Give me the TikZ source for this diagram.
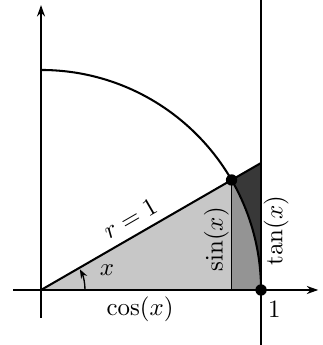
\documentclass[tikz,border=0pt]{standalone}
\usetikzlibrary{arrows.meta}
\begin{document}
\begin{tikzpicture}[x=3.4cm,y=3.4cm,
  axis/.style={line width=0.9pt,-{Stealth[length=5pt,width=3.5pt]}},
  edge/.style={line width=0.9pt},
  thinline/.style={line width=0.6pt},
  dot/.style={circle,fill=black,inner sep=0pt,minimum size=5pt},
  lab/.style={inner sep=1pt,font=\fontsize{11.3}{13}\selectfont}]
\useasboundingbox (-0.1864,-0.25) rectangle (1.2773,1.318);
\coordinate (O) at (0,0);
\coordinate (P) at (30:1);
\coordinate (C) at ({cos(30)},0);
\coordinate (E) at (1,0);
\coordinate (T) at (1,{tan(30)});
% shading
\fill[black!22] (O) -- (P) -- (C) -- cycle;
\fill[black!42] (C) -- (P) arc[start angle=30,end angle=0,radius=1] -- cycle;
\fill[black!78] (P) -- (T) -- (E) arc[start angle=0,end angle=30,radius=1] -- cycle;
% axes
\draw[axis] (-0.127,0) -- (1.26,0);
\draw[axis] (0,-0.127) -- (0,1.295);
\draw[edge] (1,-0.25) -- (1,1.318);
% arc and lines
\draw[edge] (0,1) arc[start angle=90,end angle=0,radius=1];
\draw[edge] (O) -- (T);
\draw[thinline] (P) -- (C);
\draw[thinline,-{Stealth[length=4pt,width=3pt]}] (0.2,0) arc[start angle=0,end angle=28,radius=0.2];
\node[dot] (dP) at (P) {};
\node[dot] (dE) at (E) {};
% labels
\node[lab,rotate=30] (r) at (0.405,0.325) {$r=1$};
\node[lab] (xl) at (0.3,0.09) {$x$};
\node[lab,anchor=north] (cl) at (0.45,-0.02) {$\cos(x)$};
\node[lab,rotate=90,anchor=south] (sl) at ({cos(30)},0.23) {$\sin(x)$};
\node[lab,rotate=90,anchor=north] (tl) at (1,0.27) {$\tan(x)$};
\node[lab,anchor=north west] (one) at (1.02,-0.04) {$1$};
\end{tikzpicture}
\end{document}
